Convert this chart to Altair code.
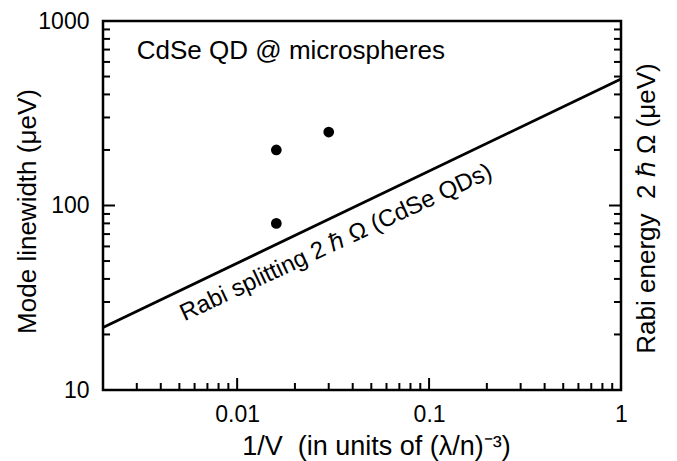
import math
import altair as alt
import pandas as pd

# ---- data ----
line_x = [0.002, 1.0]          # Rabi splitting line end points
line_y = [21.8, 485.0]
pt_x = [0.016, 0.016, 0.030]   # measured mode linewidths
pt_y = [200.0, 80.0, 250.0]

x_major = [0.01, 0.1, 1.0]
x_minor = [0.002, 0.003, 0.004, 0.005, 0.006, 0.007, 0.008, 0.009,
           0.02, 0.03, 0.04, 0.05, 0.06, 0.07, 0.08, 0.09,
           0.2, 0.3, 0.4, 0.5, 0.6, 0.7, 0.8, 0.9]
y_major = [10.0, 100.0, 1000.0]
y_minor = [20.0, 30.0, 40.0, 50.0, 60.0, 70.0, 80.0, 90.0,
           200.0, 300.0, 400.0, 500.0, 600.0, 700.0, 800.0, 900.0]
x_domain = [0.002, 1.0]
y_domain = [10, 1000]

note_x = [0.003]
note_y = [620.0]
note_t = ["CdSe QD @ microspheres"]
lab_x = [0.034]
lab_y = [58.0]
lab_t = ["Rabi splitting 2 \u210f \u03a9 (CdSe QDs)"]

x_title = "1/V\u00a0\u00a0(in units of (\u03bb/n)\u207b\u00b3)"
y_title = "Mode linewidth (\u03bceV)"
y2_title = "Rabi energy\u00a0\u00a02 \u210f \u03a9 (\u03bceV)"

W, H = 518, 369
FONT = "Liberation Sans"
MAJ, MIN = 12, 7   # inward tick lengths in pixels

# pixel length -> factor along the log x scale
decade_px = W / math.log10(x_domain[1] / x_domain[0])


def xfactor(px):
    return 10 ** (px / decade_px)


line_df = pd.DataFrame({"x": line_x, "y": line_y})
pts_df = pd.DataFrame({"px": pt_x, "py": pt_y})
note_df = pd.DataFrame({"nx": note_x, "ny": note_y, "t": note_t})
lab_df = pd.DataFrame({"lx": lab_x, "ly": lab_y, "t": lab_t})

xs = alt.Scale(type="log", domain=x_domain, nice=False)
ys = alt.Scale(type="log", domain=y_domain, nice=False)


def X(axis=None, field="x"):
    return alt.X(field + ":Q", scale=xs, axis=axis)


def Y(axis=None, field="y"):
    return alt.Y(field + ":Q", scale=ys, axis=axis)


common_title = dict(titleFont=FONT, titleFontWeight="normal", titleColor="black")

left_axis = alt.Axis(orient="left", values=y_major, format="d", ticks=False, tickSize=0,
                     domain=False, grid=False, labelFont=FONT, labelFontSize=23,
                     labelColor="black", labelPadding=14,
                     title=y_title, titleFontSize=26, titleAngle=270, titleX=-76, titleY=190,
                     titleAlign="center", titleBaseline="middle", **common_title)
bottom_axis = alt.Axis(orient="bottom", values=x_major, format="~g", ticks=False, tickSize=0,
                       domain=False, grid=False, labelFont=FONT, labelFontSize=23,
                       labelColor="black", labelPadding=13, labelFlush=False,
                       title=x_title, titleFontSize=27, titleX=273, titleY=64,
                       titleAlign="center", titleBaseline="alphabetic", **common_title)
right_title_axis = alt.Axis(orient="right", labels=False, ticks=False, domain=False, grid=False,
                            title=y2_title, titleFontSize=26, titleAngle=270, titleX=25,
                            titleY=187, titleAlign="center", titleBaseline="middle",
                            **common_title)

line = alt.Chart(line_df).mark_line(color="black", strokeWidth=2.8).encode(
    x=X(bottom_axis), y=Y(left_axis))
points = alt.Chart(pts_df).mark_point(filled=True, color="black", size=115, opacity=1,
                                      shape="circle").encode(x=X(field="px"), y=Y(field="py"))
ghost = alt.Chart(line_df).mark_line(opacity=0).encode(x=X(), y=Y(right_title_axis))


def yticks(name, values, edge_value, end_value):
    # horizontal rules from a frame edge inward, placed through the x scale
    df = pd.DataFrame({name: values})
    return alt.Chart(df).mark_rule(color="black", strokeWidth=2).encode(
        y=Y(field=name),
        x=alt.datum(edge_value, type="quantitative", axis=None, scale=xs),
        x2=alt.datum(end_value))


def xticks(name, values, length):
    df = pd.DataFrame({name: values})
    return alt.Chart(df).mark_rule(color="black", strokeWidth=2).encode(
        x=X(field=name), y=alt.value(H), y2=alt.value(H - length))


x0, x1 = x_domain
ticks = [
    yticks("ly_major", y_major, x0, x0 * xfactor(MAJ)),
    yticks("ly_minor", y_minor, x0, x0 * xfactor(MIN)),
    yticks("ry_major", y_major, x1, x1 / xfactor(MAJ)),
    yticks("ry_minor", y_minor, x1, x1 / xfactor(MIN)),
    xticks("bx_major", x_major, MAJ), xticks("bx_minor", x_minor, MIN),
]

note = alt.Chart(note_df).mark_text(font=FONT, fontSize=26, color="black", align="left",
                                    baseline="alphabetic").encode(
    x=X(field="nx"), y=Y(field="ny"), text="t:N")
label = alt.Chart(lab_df).mark_text(font=FONT, fontSize=24, color="black", align="center",
                                    baseline="alphabetic", angle=335).encode(
    x=X(field="lx"), y=Y(field="ly"), text="t:N")

chart = alt.layer(line, points, ghost, *ticks, note, label).properties(
    width=W, height=H,
    autosize=alt.AutoSizeParams(type="none"),
    padding={"left": 103, "top": 21, "right": 56, "bottom": 71},
    background="white",
).resolve_axis(x="independent", y="independent").configure_view(
    stroke="black", strokeWidth=2.5)

chart.save("out.html", embed_options={"renderer": "svg", "actions": False})
